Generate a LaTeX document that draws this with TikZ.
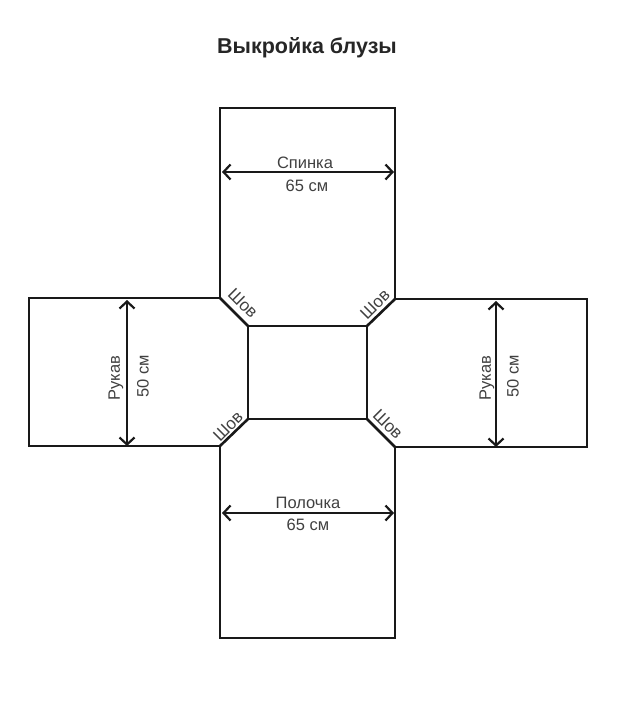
\documentclass[tikz,border=0pt]{standalone}
\usepackage{fontspec}
\setmainfont{Liberation Sans}
\usetikzlibrary{arrows.meta}

\tikzset{
  outline/.style = {line width=2.6pt, draw=black!90},
  dimline/.style = {line width=2.6pt, draw=black!90, {Straight Barb[length=7pt,width=15pt,line width=2.2pt]}-{Straight Barb[length=7pt,width=15pt,line width=2.2pt]}},
  lbl/.style = {font=\fontsize{16.5}{19}\selectfont, text=black!75, inner sep=0pt},
  seam/.style = {font=\fontsize{17}{19}\selectfont, text=black!75, inner sep=0pt},
}

\begin{document}
\begin{tikzpicture}[x=1pt, y=-1pt]
  \useasboundingbox (0,0) rectangle (620,701);

  \node[font=\fontsize{21.5}{24}\selectfont\bfseries, text=black!85, inner sep=0pt] (title) at (307,48) {Выкройка блузы};

  % corners of the middle
  \coordinate (a) at (248,326);
  \coordinate (b) at (367,326);
  \coordinate (c) at (367,419);
  \coordinate (d) at (248,419);

  \coordinate (tl) at (220,298);
  \coordinate (tr) at (395,299);
  \coordinate (br) at (395,447);
  \coordinate (bl) at (220,446);

  \draw[outline] (a) -- (b) -- (c) -- (d) -- cycle;
  \draw[outline] (a) -- (tl) (b) -- (tr) (c) -- (br) (d) -- (bl);

  % back, front, sleeves
  \draw[outline] (tl) -- (220,108) -- (395,108) -- (tr);
  \draw[outline] (bl) -- (220,638) -- (395,638) -- (br);
  \draw[outline] (tl) -- (29,298) -- (29,446) -- (bl);
  \draw[outline] (tr) -- (587,299) -- (587,447) -- (br);

  \draw[dimline] (222,172) -- (394,172);
  \draw[dimline] (222,513) -- (394,513);
  \draw[dimline] (127,300) -- (127,446);
  \draw[dimline] (496,301) -- (496,447);

  \node[lbl] (back) at (305,163) {Спинка};
  \node[lbl] (backw) at (307,186) {65 см};
  \node[lbl] (front) at (308,503) {Полочка};
  \node[lbl] (frontw) at (308,525) {65 см};

  \node[lbl, rotate=90] (left) at (116,378) {Рукав};
  \node[lbl, rotate=90] (leftw) at (143,376) {50 см};
  \node[lbl, rotate=90] (right) at (487,378) {Рукав};
  \node[lbl, rotate=90] (rightw) at (513,376) {50 см};

  \node[seam, rotate=-45] (s1) at (243,303) {Шов};
  \node[seam, rotate=45] (s2) at (375,304) {Шов};
  \node[seam, rotate=45] (s3) at (228,426) {Шов};
  \node[seam, rotate=-45] (s4) at (388,424) {Шов};
\end{tikzpicture}
\end{document}
